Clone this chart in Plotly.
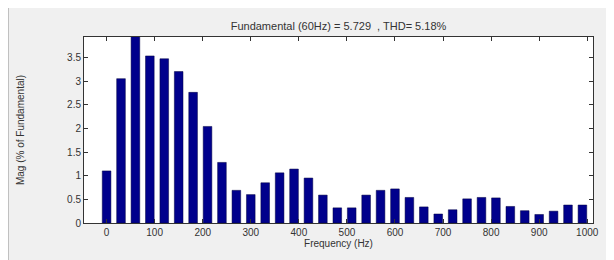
import plotly.graph_objects as go

freqs = [0, 30, 60, 90, 120, 150, 180, 210, 240, 270, 300, 330, 360, 390, 420, 450, 480,
         510, 540, 570, 600, 630, 660, 690, 720, 750, 780, 810, 840, 870, 900, 930, 960, 990]
mags = [1.10, 3.05, 100.0, 3.53, 3.47, 3.20, 2.76, 2.04, 1.28, 0.69, 0.60, 0.85, 1.06, 1.14,
        0.95, 0.59, 0.32, 0.32, 0.59, 0.69, 0.72, 0.54, 0.34, 0.19, 0.28, 0.51, 0.54, 0.53,
        0.35, 0.26, 0.18, 0.25, 0.38, 0.38]
x_ticks = [0, 100, 200, 300, 400, 500, 600, 700, 800, 900, 1000]
y_ticks = [0, 0.5, 1, 1.5, 2, 2.5, 3, 3.5]
y_tick_text = ["0", "0.5", "1", "1.5", "2", "2.5", "3", "3.5"]
title_text = "Fundamental (60Hz) = 5.729  , THD= 5.18%"

fig = go.Figure()
fig.add_trace(go.Bar(
    x=freqs, y=mags, width=18,
    marker=dict(color="#00008c", line=dict(color="#000040", width=0.5)),
    cliponaxis=True,
))

font = dict(family="Liberation Sans, Arial, sans-serif", size=10, color="#333333")

L, R, T, B = 76, 21, 29, 37
W, H = 606, 252
pw = W - L - R

fig.update_layout(
    width=W, height=H,
    margin=dict(l=L, r=R, t=T, b=B, autoexpand=False),
    paper_bgcolor="#f0f0f0",
    plot_bgcolor="white",
    showlegend=False,
    font=font,
    title=dict(text=title_text, x=0.5, xanchor="center", xref="paper",
               y=1, yref="paper", yanchor="bottom", pad=dict(b=7),
               font=dict(family="Liberation Sans, Arial, sans-serif", size=11, color="#333333")),
    xaxis=dict(range=[-47, 1012], tickvals=x_ticks, ticks="inside", ticklen=4,
               tickcolor="#333333", showline=True, linecolor="#333333", linewidth=1,
               mirror="ticks", showgrid=False, zeroline=False, automargin=False,
               title=dict(text="Frequency (Hz)", standoff=2, font=font)),
    yaxis=dict(range=[0, 3.93], tickvals=y_ticks, ticktext=y_tick_text,
               ticks="inside", ticklen=4,
               tickcolor="#333333", showline=True, linecolor="#333333", linewidth=1,
               mirror="ticks", showgrid=False, zeroline=False, automargin=False,
               title=dict(text="Mag (% of Fundamental)", standoff=40, font=font)),
    shapes=[
        dict(type="line", xref="paper", yref="paper", x0=-(L - 0.5) / pw, x1=-(L - 0.5) / pw,
             y0=-1, y1=2, line=dict(color="#c0c0c0", width=1), layer="below"),
    ],
)

fig.write_html("out.html")
